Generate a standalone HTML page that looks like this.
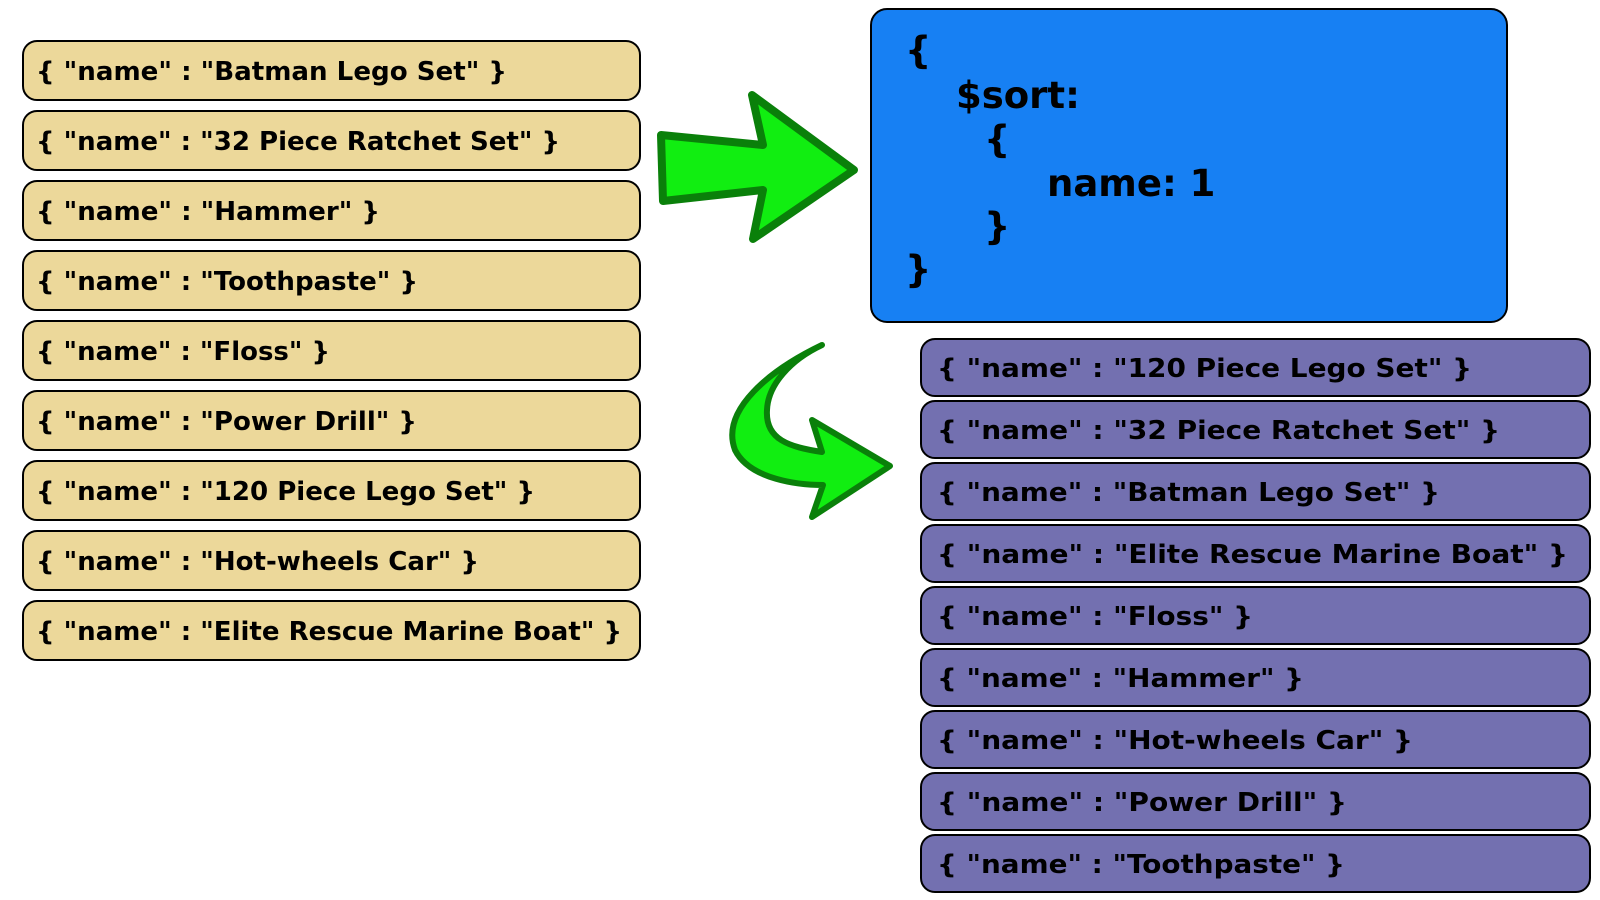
<!DOCTYPE html>
<html><head><meta charset="utf-8"><style>
html,body{margin:0;padding:0;background:#fff;width:1600px;height:900px;overflow:hidden}
svg text{font-family:"DejaVu Sans","Liberation Sans",sans-serif;font-weight:bold;fill:#000}
</style></head><body>
<svg width="1600" height="900" viewBox="0 0 1600 900" xmlns="http://www.w3.org/2000/svg">
<g fill="#ecd89a" stroke="#000" stroke-width="2">
<rect x="23" y="41" width="617" height="59" rx="14"/>
<rect x="23" y="111" width="617" height="59" rx="14"/>
<rect x="23" y="181" width="617" height="59" rx="14"/>
<rect x="23" y="251" width="617" height="59" rx="14"/>
<rect x="23" y="321" width="617" height="59" rx="14"/>
<rect x="23" y="391" width="617" height="59" rx="14"/>
<rect x="23" y="461" width="617" height="59" rx="14"/>
<rect x="23" y="531" width="617" height="59" rx="14"/>
<rect x="23" y="601" width="617" height="59" rx="14"/>
</g>
<g font-size="26" xml:space="preserve">
<text x="36" y="80" textLength="471" lengthAdjust="spacingAndGlyphs">{ "name" : "Batman Lego Set" }</text>
<text x="36" y="150" textLength="524" lengthAdjust="spacingAndGlyphs">{ "name" : "32 Piece Ratchet Set" }</text>
<text x="36" y="220" textLength="344" lengthAdjust="spacingAndGlyphs">{ "name" : "Hammer" }</text>
<text x="36" y="290" textLength="382" lengthAdjust="spacingAndGlyphs">{ "name" : "Toothpaste" }</text>
<text x="36" y="360" textLength="294" lengthAdjust="spacingAndGlyphs">{ "name" : "Floss" }</text>
<text x="36" y="430" textLength="381" lengthAdjust="spacingAndGlyphs">{ "name" : "Power Drill" }</text>
<text x="36" y="500" textLength="499" lengthAdjust="spacingAndGlyphs">{ "name" : "120 Piece Lego Set" }</text>
<text x="36" y="570" textLength="443" lengthAdjust="spacingAndGlyphs">{ "name" : "Hot-wheels Car" }</text>
<text x="36" y="640" textLength="586" lengthAdjust="spacingAndGlyphs">{ "name" : "Elite Rescue Marine Boat" }</text>
</g>
<rect x="871" y="9" width="636" height="313" rx="16" fill="#1780f3" stroke="#000" stroke-width="2"/>
<g font-size="37">
<text x="905" y="63">{</text>
<text x="956" y="108">$sort:</text>
<text x="984" y="152">{</text>
<text x="1047" y="196">name: 1</text>
<text x="984" y="239">}</text>
<text x="905" y="282">}</text>
</g>
<g fill="#7370b0" stroke="#000" stroke-width="2">
<rect x="921" y="339" width="669" height="57" rx="14"/>
<rect x="921" y="401" width="669" height="57" rx="14"/>
<rect x="921" y="463" width="669" height="57" rx="14"/>
<rect x="921" y="525" width="669" height="57" rx="14"/>
<rect x="921" y="587" width="669" height="57" rx="14"/>
<rect x="921" y="649" width="669" height="57" rx="14"/>
<rect x="921" y="711" width="669" height="57" rx="14"/>
<rect x="921" y="773" width="669" height="57" rx="14"/>
<rect x="921" y="835" width="669" height="57" rx="14"/>
</g>
<g font-size="26" xml:space="preserve">
<text x="937" y="377" textLength="535" lengthAdjust="spacingAndGlyphs">{ "name" : "120 Piece Lego Set" }</text>
<text x="937" y="439" textLength="563" lengthAdjust="spacingAndGlyphs">{ "name" : "32 Piece Ratchet Set" }</text>
<text x="937" y="501" textLength="503" lengthAdjust="spacingAndGlyphs">{ "name" : "Batman Lego Set" }</text>
<text x="937" y="563" textLength="631" lengthAdjust="spacingAndGlyphs">{ "name" : "Elite Rescue Marine Boat" }</text>
<text x="937" y="625" textLength="316" lengthAdjust="spacingAndGlyphs">{ "name" : "Floss" }</text>
<text x="937" y="687" textLength="367" lengthAdjust="spacingAndGlyphs">{ "name" : "Hammer" }</text>
<text x="937" y="749" textLength="476" lengthAdjust="spacingAndGlyphs">{ "name" : "Hot-wheels Car" }</text>
<text x="937" y="811" textLength="410" lengthAdjust="spacingAndGlyphs">{ "name" : "Power Drill" }</text>
<text x="937" y="873" textLength="408" lengthAdjust="spacingAndGlyphs">{ "name" : "Toothpaste" }</text>
</g>
<polygon points="661,135 763,145 752,95 854,170 753,239 763,190 663,201" fill="#11ee11" stroke="#0a800a" stroke-width="8" stroke-linejoin="round"/>
<path d="M822,345 C770,370 720,410 735,450 C750,480 800,485 823,485 L812,517 L890,466 L812,420 L822,452 C790,447 765,440 767,410 C768,385 790,360 822,345 Z" fill="#11ee11" stroke="#0a800a" stroke-width="6" stroke-linejoin="round"/>
</svg>
</body></html>
